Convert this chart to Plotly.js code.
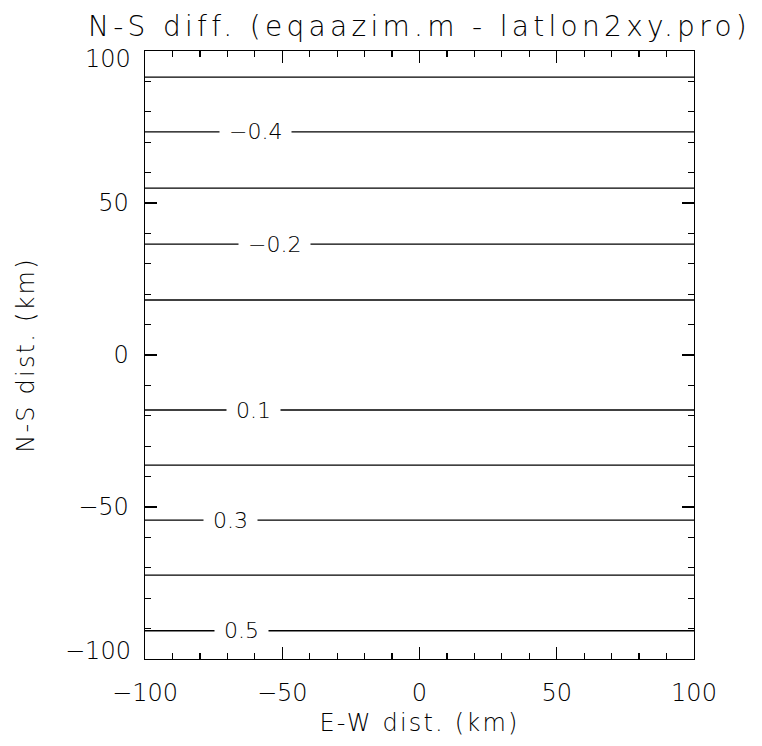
<!DOCTYPE html>
<html>
<head>
<meta charset="utf-8">
<script src="https://cdn.plot.ly/plotly-3.0.1.min.js"></script>
<style>
  html, body { margin: 0; padding: 0; background: #fff; }
  #chart { width: 762px; height: 746px; }
  .gtitle { letter-spacing: 4.3px; }
  .xtitle, .ytitle { letter-spacing: 2.2px; }
</style>
</head>
<body>
<div id="chart"></div>
<script>
// Contour levels (N-S difference) and where each horizontal contour sits (N-S km)
const levels    = [-0.5, -0.4, -0.3, -0.2, -0.1, 0.1, 0.2, 0.3, 0.4, 0.5];
const levelY    = [91.4, 73.4, 54.9, 36.5, 18.1, -18.1, -36.2, -54.3, -72.4, -90.7];
const xExtent   = [-100, 100];
// Labelled contours and the E-W position of their label
const labelLevels = ["−0.4", "−0.2", "0.1", "0.3", "0.5"];
const labelY      = [73.4, 36.5, -18.1, -54.3, -90.7];
const labelX      = [-59.6, -53.0, -60.3, -68.7, -64.7];
// Axis tick labels
const xTickVals = [-100, -50, 0, 50, 100];
const yTickVals = [-50, 0, 50];
const yTickText = ["−50", "0", "50"];
const yEndLabels = ["100", "−100"];

const FONT = "DejaVu Sans, Liberation Sans, sans-serif";
const W = 200;

const traces = levels.map((lv, i) => ({
  type: "scatter",
  mode: "lines",
  x: xExtent,
  y: [levelY[i], levelY[i]],
  line: { color: "#000", width: 1.3 },
  hoverinfo: "skip",
  showlegend: false,
  name: String(lv)
}));

const annotations = labelLevels.map((t, i) => ({
  x: labelX[i], y: labelY[i], xref: "x", yref: "y",
  text: t, showarrow: false,
  font: { family: FONT, size: 22, color: "#000", weight: W },
  bgcolor: "#fff", borderpad: 9,
  xanchor: "center", yanchor: "middle"
}));
annotations.push({
  x: 0, y: 1, xref: "paper", yref: "paper", text: yEndLabels[0],
  showarrow: false, xanchor: "right", yanchor: "middle",
  xshift: -12, yshift: -8,
  font: { family: FONT, size: 24, color: "#000", weight: W }
});
annotations.push({
  x: 0, y: 0, xref: "paper", yref: "paper", text: yEndLabels[1],
  showarrow: false, xanchor: "right", yanchor: "middle",
  xshift: -12, yshift: 8,
  font: { family: FONT, size: 24, color: "#000", weight: W }
});

const axisCommon = {
  showgrid: false, zeroline: false,
  showline: true, linecolor: "#000", linewidth: 1.3,
  mirror: "ticks",
  ticks: "inside", ticklen: 12, tickwidth: 1.2, tickcolor: "#000",
  minor: { ticks: "inside", ticklen: 6, tickwidth: 1.2, tickcolor: "#000", dtick: 10, tick0: 0, showgrid: false },
  tickfont: { family: FONT, size: 24, color: "#000", weight: W },
  fixedrange: true
};

const layout = {
  width: 762, height: 746,
  margin: { l: 145, r: 68, t: 51, b: 87 },
  paper_bgcolor: "#fff", plot_bgcolor: "#fff",
  showlegend: false,
  title: {
    text: "N-S diff. (eqaazim.m - latlon2xy.pro)",
    font: { family: FONT, size: 28, color: "#000", weight: W },
    x: 0.5, xref: "paper", xanchor: "center",
    y: 1 - 26 / 746, yref: "container", yanchor: "middle"
  },
  xaxis: Object.assign({}, axisCommon, {
    range: [-100, 100],
    tickmode: "array", tickvals: xTickVals,
    ticklabelstandoff: 12,
    title: { text: "E-W dist. (km)", font: { family: FONT, size: 24, color: "#000", weight: W }, standoff: 8 }
  }),
  yaxis: Object.assign({}, axisCommon, {
    range: [-100, 100],
    tickmode: "array", tickvals: yTickVals, ticktext: yTickText,
    ticklabelstandoff: 10,
    title: { text: "N-S dist. (km)", font: { family: FONT, size: 24, color: "#000", weight: W }, standoff: 36 }
  }),
  annotations: annotations
};

Plotly.newPlot("chart", traces, layout, { displayModeBar: false, staticPlot: true });
</script>
</body>
</html>
